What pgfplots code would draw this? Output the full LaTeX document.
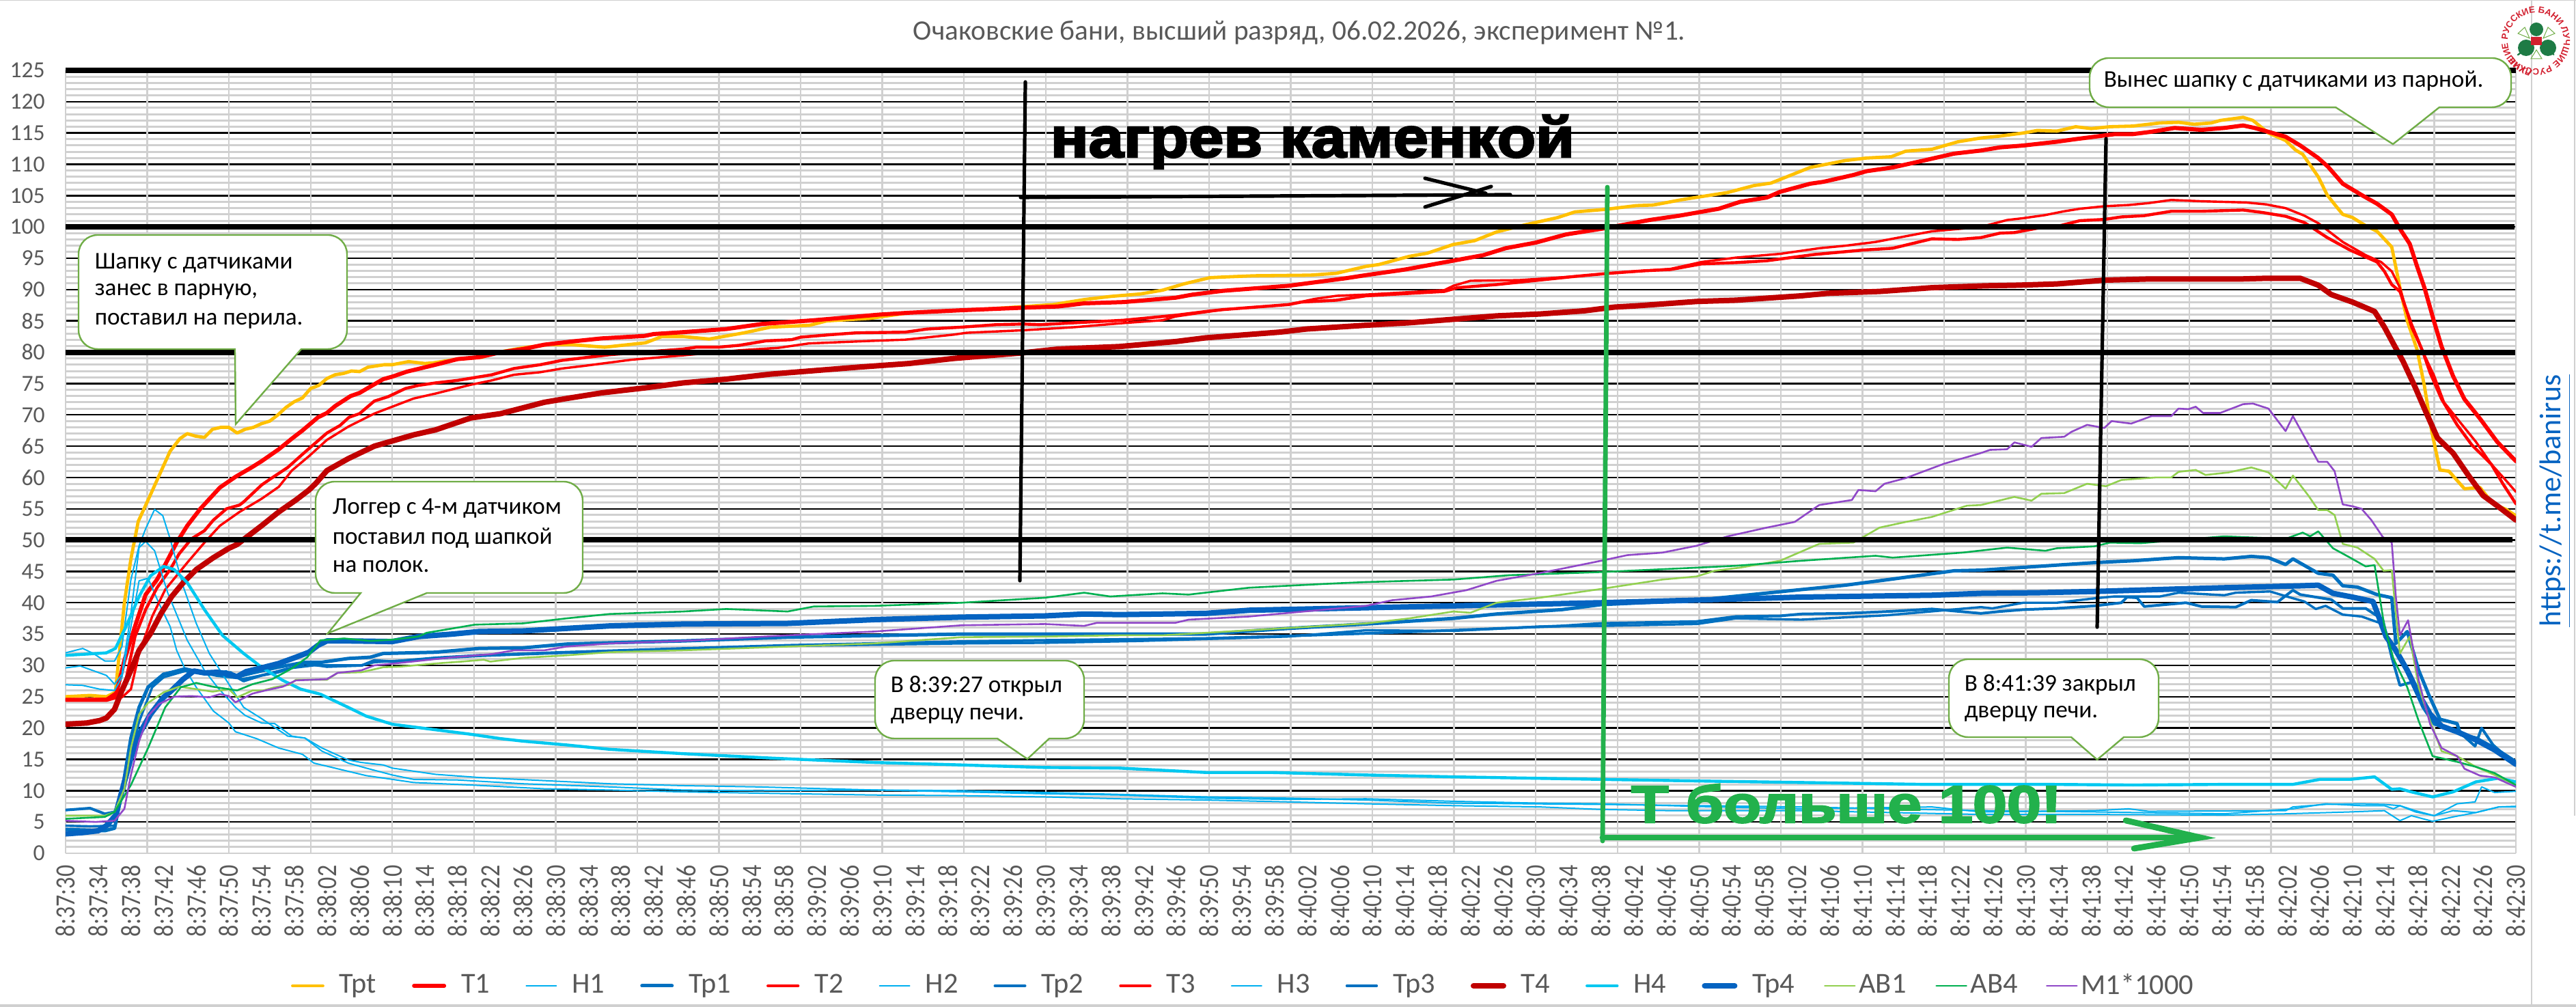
\documentclass[border=0pt]{standalone}
\usepackage{fontspec}
\usepackage{pgfplots}
\pgfplotsset{compat=1.18}
\usetikzlibrary{decorations.text}
\setmainfont{Carlito}
\newfontfamily\heavy[FakeBold=3]{Liberation Sans Bold}
\newfontfamily\arialb{Liberation Sans Bold}
\definecolor{txt}{HTML}{595959}
\definecolor{cTpt}{HTML}{FFC000}
\definecolor{cRed}{HTML}{FF0000}
\definecolor{cH}{HTML}{00B0F0}
\definecolor{cTp}{HTML}{0070C0}
\definecolor{cT4}{HTML}{C00000}
\definecolor{cH4}{HTML}{00C8F0}
\definecolor{cTp4}{HTML}{0563C1}
\definecolor{cAB1}{HTML}{92D050}
\definecolor{cAB4}{HTML}{00B050}
\definecolor{cM}{HTML}{9048C8}
\definecolor{cg}{HTML}{70AD47}
\definecolor{bigg}{HTML}{22B14C}
\definecolor{grid}{HTML}{D0D0D0}
\definecolor{logog}{HTML}{1E7B45}
\definecolor{logor}{HTML}{D2202F}
\begin{document}
\begin{tikzpicture}
\path[use as bounding box] (0pt,0pt) rectangle (942.75pt,368.5pt);
\begin{axis}[
  at={(24pt,56.25pt)},anchor=south west,
  scale only axis,width=896.75pt,height=286.5pt,
  xmin=0,xmax=300,ymin=0,ymax=125,
  axis x line*=bottom,axis y line*=left,
  axis line style={-,draw=grid,line width=0.6pt},
  xtick={0,4,...,300},
  xticklabels={8:37:30,8:37:34,8:37:38,8:37:42,8:37:46,8:37:50,8:37:54,8:37:58,8:38:02,8:38:06,8:38:10,8:38:14,8:38:18,8:38:22,8:38:26,8:38:30,8:38:34,8:38:38,8:38:42,8:38:46,8:38:50,8:38:54,8:38:58,8:39:02,8:39:06,8:39:10,8:39:14,8:39:18,8:39:22,8:39:26,8:39:30,8:39:34,8:39:38,8:39:42,8:39:46,8:39:50,8:39:54,8:39:58,8:40:02,8:40:06,8:40:10,8:40:14,8:40:18,8:40:22,8:40:26,8:40:30,8:40:34,8:40:38,8:40:42,8:40:46,8:40:50,8:40:54,8:40:58,8:41:02,8:41:06,8:41:10,8:41:14,8:41:18,8:41:22,8:41:26,8:41:30,8:41:34,8:41:38,8:41:42,8:41:46,8:41:50,8:41:54,8:41:58,8:42:02,8:42:06,8:42:10,8:42:14,8:42:18,8:42:22,8:42:26,8:42:30},
  x tick label style={yshift=-4.25pt,rotate=90,yscale=1.2,anchor=east,font=\fontsize{8.5}{10}\selectfont,text=txt,inner sep=0pt},
  extra x ticks={0,10,...,300},
  extra x tick labels={},
  extra x tick style={grid=major,major grid style={draw=grid,line width=0.6pt}},
  ytick={0,5,...,125},
  minor y tick num=4,
  ymajorgrids,yminorgrids,
  major y grid style={draw=black,line width=0.6pt},
  minor y grid style={draw=grid,line width=0.75pt},
  y tick label style={font=\fontsize{8.4}{10}\selectfont,text=txt,inner sep=0pt,xshift=-7.4pt},
  /pgf/number format/assume math mode=true,
  major tick length=0pt,minor tick length=0pt,
  no markers,
  every axis plot/.append style={line join=round,line cap=round},
  legend columns=16,
  legend style={at={(0.0918,-0.1693)},anchor=west,draw=none,fill=none,inner sep=0pt,
    font=\fontsize{10.6}{12}\selectfont,text=txt,
    nodes={inner sep=0pt},
    /tikz/column 1/.style={column sep=5.5pt},/tikz/column 2/.style={column sep=13pt},
    /tikz/column 3/.style={column sep=5.5pt},/tikz/column 4/.style={column sep=13pt},
    /tikz/column 5/.style={column sep=5.5pt},/tikz/column 6/.style={column sep=13pt},
    /tikz/column 7/.style={column sep=5.5pt},/tikz/column 8/.style={column sep=13pt},
    /tikz/column 9/.style={column sep=5.5pt},/tikz/column 10/.style={column sep=13pt},
    /tikz/column 11/.style={column sep=5.5pt},/tikz/column 12/.style={column sep=13pt},
    /tikz/column 13/.style={column sep=5.5pt},/tikz/column 14/.style={column sep=13pt},
    /tikz/column 15/.style={column sep=5.5pt},/tikz/column 16/.style={column sep=13pt},
    /tikz/column 17/.style={column sep=5.5pt},/tikz/column 18/.style={column sep=13pt},
    /tikz/column 19/.style={column sep=5.5pt},/tikz/column 20/.style={column sep=13pt},
    /tikz/column 21/.style={column sep=5.5pt},/tikz/column 22/.style={column sep=13pt},
    /tikz/column 23/.style={column sep=5.5pt},/tikz/column 24/.style={column sep=13pt},
    /tikz/column 25/.style={column sep=5.5pt},/tikz/column 26/.style={column sep=10.7pt},
    /tikz/column 27/.style={column sep=1.2pt},/tikz/column 28/.style={column sep=10.7pt},
    /tikz/column 29/.style={column sep=1.2pt},/tikz/column 30/.style={column sep=10.3pt},
    /tikz/column 31/.style={column sep=1.2pt}},
  legend image code/.code={\draw[#1](0pt,0pt)--(11pt,0pt);},
]
% Tpt
\addplot[cTpt,line width=1.2pt] coordinates {(0,25)(3,25.2)(5,25)(6.1,25.7)(7.2,40)(8,47)(8.9,53)(10.1,56.4)(12.8,64.2)(14,66.2)(14.9,67)(15.9,66.6)(17,66.4)(18,67.7)(19,68)(20,68)(21,67.1)(22,67.7)(23,68)(24,68.6)(25,69)(26,70)(27,71.2)(28,72.1)(29,72.7)(30,74.2)(31,74.7)(32,75.8)(33,76.4)(34,76.6)(35,77)(36,76.9)(37,77.6)(39,78)(40,78)(42,78.5)(44,78.2)(45,78.3)(48,78.9)(51,79.2)(53,80)(56,80.7)(59,81.2)(62,81.2)(66,80.8)(71,81.5)(73,82.5)(75.6,82.5)(78.8,82.1)(83.1,83.1)(86.3,84)(91.1,84.3)(93.2,85)(98.5,85.4)(103.3,86.3)(112.9,86.9)(120.9,87.6)(124.7,88.4)(127.9,88.9)(131.6,89.3)(134.3,89.9)(136.9,90.9)(140.1,91.9)(141.7,92)(145.5,92.2)(152.4,92.3)(155.6,92.6)(159.2,93.7)(160.8,94)(164.5,95.3)(166.7,95.8)(169.9,97.2)(172.5,97.8)(175.2,99.2)(178.9,100.4)(182.7,101.5)(184.8,102.4)(188.5,102.8)(192.3,103.4)(194.4,103.5)(198.1,104.4)(203.5,105.5)(206.7,106.6)(208.8,107)(213.6,109.5)(217.9,110.6)(220.5,111)(223.5,111.2)(225.3,112.1)(228.5,112.4)(231.7,113.6)(234.5,114.2)(236.8,114.5)(239.7,115)(241.4,115.4)(243.8,115.3)(246.1,116)(248,115.7)(250.3,116)(253.1,116.1)(256.4,116.6)(258.7,116.7)(260.6,116.4)(262.7,116.6)(263.8,117)(266.6,117.5)(267.8,117)(269.7,115)(271.8,113.8)(273,112.3)(273.9,111.6)(275.8,108)(276.9,105.1)(277.8,103.6)(278.8,102)(280,101.5)(281.6,100.2)(283,99.3)(284.8,96.8)(285.8,90.3)(286.7,85)(287.9,80.4)(288.8,74.6)(289.7,67.3)(290.7,61.2)(291.8,61)(293.7,58.2)(295.6,58.4)(297.2,55.8)(298.8,54.9)(300,53.9)};
\addlegendentry{Tpt}
% T1
\addplot[cRed,line width=1.5pt] coordinates {(0,24.5)(5,24.5)(6.1,24.9)(7.2,30.8)(8.5,36.2)(9.8,41.3)(11.2,43.7)(12.2,46.1)(13.6,49.6)(14.9,52.3)(16.5,55)(18.9,58.4)(20.8,60.1)(22.9,61.7)(24,62.6)(26.1,64.5)(27.8,66.3)(29,67.5)(30.9,69.6)(32,70.3)(33,71.4)(34.9,73)(36,73.5)(37.3,74.5)(38.9,75.7)(40,76.1)(41.8,76.9)(45.3,78)(48,78.9)(50.6,79.2)(53.3,80)(56,80.5)(58.6,81.2)(61.9,81.7)(65.6,82.2)(70.9,82.6)(72,82.9)(75.6,83.2)(80.9,83.7)(85.2,84.5)(91.6,85.1)(99.6,86)(103.3,86.3)(109.7,86.7)(117.2,87.1)(121.5,87.3)(124.7,87.8)(129.5,88)(135.9,88.7)(138,89.2)(141.7,89.8)(149.7,90.6)(156.7,91.8)(159.2,92.3)(164,93.2)(173.6,95.5)(176.3,96.6)(180,97.5)(183.7,98.8)(188.5,99.8)(193.9,101.1)(197.6,101.8)(202.4,102.9)(205,104)(208.3,104.7)(209.9,105.6)(213.6,106.9)(215.2,107.2)(218.9,108.3)(220.5,108.9)(223.7,109.5)(227.5,110.6)(231.2,111.7)(234.5,112.2)(236.8,112.7)(239.7,113)(243.8,113.6)(246,114)(249.6,114.6)(250.8,114.8)(253,114.8)(255.4,115.2)(258.2,115.8)(261.5,115.5)(264.3,115.8)(266.6,116.2)(268,115.8)(269.4,115.3)(271.8,114.4)(273.6,113)(275.8,111)(277,109.6)(278.8,106.9)(281.1,105.1)(283,103.7)(284.8,102)(285.8,99.7)(287,97.3)(287.9,93.7)(288.8,90.3)(290,84.8)(290.9,80.9)(292.3,76.2)(293.7,72.5)(295.6,69.4)(297.7,65.7)(300,62.6)};
\addlegendentry{T1}
% H1
\addplot[cH,line width=0.5pt] coordinates {(0,26.9)(2.1,26.8)(4.2,26.2)(6,26)(6.9,28.1)(8,36.2)(9,43.5)(10.1,43.9)(11.4,40)(12.8,36.2)(13.6,32.4)(14.6,29.5)(16,26.5)(18.1,22.7)(20,20.8)(20.8,19.4)(23.4,18.3)(26.1,16.8)(29,15.8)(30.4,14.4)(33.6,13.4)(36.8,12.4)(40,11.8)(42.6,11.3)(49.6,10.9)(58.6,10.3)(66.6,10.1)(75.6,9.8)(84.7,9.6)(99,9.3)(109.7,9.2)(119.9,9)(129,8.7)(139.6,8.5)(149.7,8.2)(159.2,7.9)(169.9,7.6)(180.5,7.4)(188,7)(196.5,6.8)(212.5,6.8)(234.5,6.2)(248.4,6.2)(264.3,6.1)(271.8,6.3)(279.7,6.6)(283.9,6.8)(285.8,5.2)(287.2,6)(289.8,5.1)(292.3,5.8)(295.1,6.5)(297.9,7.4)(300,7.5)};
\addlegendentry{H1}
% Tp1
\addplot[cTp,line width=1.25pt] coordinates {(0,3.8)(2.6,3.7)(4.8,3.6)(6,4)(6.9,9.8)(8,18.4)(9,23.3)(10.1,26.5)(12,28.6)(14.4,29.2)(16,29.1)(18.6,28.4)(20.8,28.1)(22.9,28.8)(26,29.7)(29.3,30.5)(31.4,30.5)(34.6,31.1)(37.3,31.3)(38.9,31.9)(45.3,32.1)(50.6,32.7)(56,32.8)(61.3,33.4)(66.6,33.6)(75.6,33.9)(88.4,34.5)(109.7,35)(119.9,35)(129,35)(139.6,35)(149.7,35.9)(159.2,36.6)(169.9,37.5)(175.2,38.2)(183.2,38.9)(188,39.7)(199.7,40.4)(207.2,41.4)(212.5,42.1)(217.9,42.8)(223.2,43.7)(231.2,45.1)(234.5,45.2)(239.1,45.6)(248.4,46.4)(253.1,46.7)(258.7,47.2)(264.3,47)(267.6,47.4)(269.7,47.2)(271.8,46.1)(272.7,47)(275.8,44.7)(277.6,44.4)(278.8,42.7)(280.6,42.5)(283,41.3)(284.8,40.8)(285.3,33.5)(286.7,35.4)(288.1,29.2)(289.3,25.4)(290.7,21.4)(292.8,20.7)(293.2,19)(295.1,18.4)(297.4,16.8)(300,14.6)};
\addlegendentry{Tp1}
% T2
\addplot[cRed,line width=1.1pt] coordinates {(0,24.5)(5,24.6)(7.2,26.5)(8.5,34.6)(9.8,38.9)(11.2,42.4)(12.8,45.3)(13.9,47.8)(15.4,50.2)(17,51.5)(18.1,53.2)(19.7,55)(21.3,55.6)(21.8,56.1)(24,58.8)(25,59.7)(27.2,61.6)(29,63.7)(32,67.1)(33.6,68.3)(34.7,69.6)(36,70.2)(37.8,72.2)(39.5,72.9)(41.6,74.2)(43.2,74.7)(45.3,75.1)(48,75.5)(52.2,76.4)(54.9,77.4)(58.1,78)(60.8,78.7)(63.4,79.1)(66.6,79.6)(75.6,80.5)(77.2,80.8)(79.9,80.8)(82.5,81.1)(85.7,81.8)(88.9,82)(90,82.4)(93.7,82.8)(96.9,83.1)(102.8,83.2)(105.5,83.7)(109.7,84)(114,84.4)(117.2,84.5)(119.3,84.4)(123.6,84.7)(129.5,85.1)(135.9,85.9)(139.6,86.5)(141.7,86.8)(149.7,87.6)(151.3,88)(155.6,88.3)(159.2,89)(168.8,89.7)(170.4,90.3)(175.2,90.8)(184.8,92.1)(189,92.6)(193.3,93)(196.5,93.2)(200.3,94.1)(204.5,94.3)(208.3,94.6)(214.1,95.6)(220,96.3)(223.7,96.6)(228.5,98.1)(231.7,98)(234.5,98.3)(236.8,99)(238.6,99.1)(241.4,99.8)(244.2,100.2)(246.6,101)(249.6,101.2)(251.7,101.6)(254.5,101.8)(257.8,102.5)(261.5,102.5)(266.6,102.7)(269,102.3)(271.8,101.7)(274.1,100.7)(276.9,98.3)(279.7,96.3)(283,94.4)(283.9,92.9)(284.8,90.8)(285.8,89.7)(287.2,84.5)(288.6,80.1)(289.5,76.7)(290.9,72.5)(292.8,68.4)(294.6,65.2)(297,62.1)(298.4,59)(300,55.8)};
\addlegendentry{T2}
% H2
\addplot[cH,line width=0.5pt] coordinates {(0,32)(2.1,32.7)(3.4,31.9)(4.8,30.7)(6,30.7)(6.9,33)(8,43.7)(9,49.1)(9.8,51.8)(10.9,54.9)(11.9,53.9)(12.8,50.2)(14.4,42.6)(16,36.7)(17.6,31.9)(19.7,27.6)(21.8,23.3)(24,21.5)(27.2,18.7)(29.3,18.4)(31.4,16.3)(34.6,14.4)(36.8,13.6)(40,12.5)(42.6,11.8)(48,11.7)(56,11.1)(66.6,10.6)(75.6,10.1)(84.7,10)(99,10.1)(109.7,9.8)(119.9,9.5)(129,9.3)(139.6,8.8)(149.7,8.6)(159.2,8.7)(169.9,8.3)(180.5,8)(188,7.9)(201.9,7.4)(212.5,7.1)(228.5,7.4)(234.5,6.6)(248.4,6.8)(252.6,7.1)(255,6.7)(271.8,6.8)(272.7,7.4)(276.7,7.8)(281,7.9)(283.9,7.8)(285.8,7.6)(287.7,6.6)(290,6)(292.3,6.8)(295.1,6.5)(297.9,7.4)(300,7.4)};
\addlegendentry{H2}
% Tp2
\addplot[cTp,line width=1pt] coordinates {(0,6.9)(3,7.2)(4.8,6.3)(6,6.6)(7.2,10.3)(8,16.8)(9,23.3)(10.1,26.6)(12,28.6)(14.6,29.5)(17,28.8)(19.7,29)(21.8,27.5)(24,28.4)(26,28.9)(29.3,30.3)(32,29.8)(36.3,30)(37.8,30.8)(40,30.6)(45.3,31.2)(50.6,31.6)(61.3,32.1)(75.6,32.7)(88.4,33.2)(109.7,33.8)(119.9,34)(139.6,34.3)(149.7,34.7)(159.2,35.1)(169.9,35.6)(183.2,36.3)(188,36.7)(199.7,37)(204.5,37.8)(209.9,37.9)(212.5,38.2)(217.9,38.3)(223.2,38.6)(228.5,39)(234.5,38.3)(236.8,38.6)(239.7,38.9)(243.8,39.1)(248.4,39.5)(251.7,40)(252.4,40.9)(253.6,40.8)(254.5,39.4)(259.6,40)(261.5,39.4)(265.7,39.3)(267.6,40.4)(270.8,40.1)(272.7,42)(273.6,41.3)(277.4,40.5)(278.8,39.1)(281.6,39.1)(283.7,37.3)(284.8,31.3)(285.8,26.8)(287.2,27.3)(288.6,23.3)(290,20.6)(293.2,19.2)(295,17.1)(295.8,20)(297.2,17.3)(300,14.1)};
\addlegendentry{Tp2}
% T3
\addplot[cRed,line width=0.85pt] coordinates {(0,24.5)(5,24.6)(6.9,24.9)(8,26.2)(9,31.9)(10.6,37.8)(12.2,42.1)(14.9,46.4)(17,49.6)(18.9,52.3)(21.3,54.5)(24,56.6)(26.1,58.5)(27.7,61.1)(29.8,63.4)(32,66)(34.6,68.1)(37.8,70.2)(40,71.3)(42.6,72.6)(45.3,73.4)(49.6,74.8)(52.2,75.5)(54.9,76.4)(58.1,76.8)(60.8,77.4)(63.4,77.8)(69.3,78.8)(75.6,79.5)(82.5,80.3)(87.3,80.7)(91,81.4)(98.5,81.8)(102.8,82)(108.7,82.8)(110.3,83.1)(117.2,83.5)(123.6,84)(129,84.6)(134.3,85.1)(135.9,85.7)(141.7,86.8)(149.7,87.6)(152.9,88.5)(155.6,89)(159.2,89.2)(168.8,89.9)(169.9,90.6)(172,91.4)(177.9,91.5)(184.8,92.1)(189,92.6)(196.5,93.3)(200.3,94.4)(204.5,95.1)(209.9,95.7)(214.7,96.6)(217.9,97)(221.6,97.6)(228.5,99.3)(234.5,100)(237.7,101.1)(239.7,101.4)(242.4,101.9)(244.7,102.5)(246.6,102.9)(249.6,103.3)(252.6,103.5)(255,103.8)(257.8,104.3)(261.5,104.1)(267,103.9)(269.4,103.6)(271.8,103)(274.1,101.8)(275.8,100.6)(278.8,97.6)(281.6,95.5)(283.5,94.4)(284.8,92.9)(285.8,90.3)(287.2,84)(288.6,80.1)(290,76.2)(291.2,72)(292.8,69.4)(295.1,65.7)(297,62.1)(298.8,59.5)(300,57.7)};
\addlegendentry{T3}
% H3
\addplot[cH,line width=0.5pt] coordinates {(0,29.6)(1.8,29.9)(5,28.4)(6,27)(6.9,28.6)(8,38.3)(9,48.8)(9.8,49.8)(10.9,48.3)(12.5,41.6)(14.9,34)(17,29.2)(18.6,26.5)(20.8,23.3)(22,22)(24,20.8)(25.6,20.7)(27.7,18.7)(29.3,18.4)(31.4,16.8)(34.6,14.9)(36.2,14.5)(38.9,14.1)(40,13.6)(45.3,12.6)(50.6,12.1)(58.6,11.6)(66.6,11.1)(75.6,10.8)(84.7,10.6)(99,10.1)(109.7,10)(119.9,9.7)(129,9.4)(139.6,9)(149.7,8.8)(159.2,8.5)(169.9,8)(188,7.8)(212.5,7.4)(234.5,6.8)(248.4,6.6)(264.3,6.3)(272.7,7.1)(276.7,7.9)(281,7.6)(283.9,7.6)(285,7.1)(285.8,7.6)(287.7,6.8)(290,6)(292.8,7.9)(295,8.2)(295.8,10.6)(297.4,9.7)(300,9.9)};
\addlegendentry{H3}
% Tp3
\addplot[cTp,line width=0.85pt] coordinates {(0,4.4)(3,4.3)(6.1,4.4)(7.4,12.5)(9,21)(10.6,26.5)(12,28.1)(14.9,29.2)(17.6,28.5)(20.2,28.9)(21.6,27.8)(24,28.4)(27.2,29.5)(30.4,30)(34.6,30)(36.2,30)(37.8,30.5)(45.3,31.1)(50.6,31.5)(61.3,32)(75.6,32.6)(88.4,33.1)(109.7,33.5)(119.9,33.6)(131.6,33.9)(149.7,34.6)(159.2,35.6)(169.9,35.5)(180.5,36.2)(188,36.3)(199.7,36.6)(204.5,37.5)(212.5,37.3)(223,38)(234.5,39.3)(235.9,39.1)(239.7,40)(243.8,40)(248.4,40.7)(250.8,41)(256.4,41)(258.7,41.6)(264.3,41.2)(265.7,41.6)(269.9,41.8)(272.2,40.9)(274.1,40.2)(275.5,39)(276.7,39.5)(278.8,38.1)(281.1,37.8)(283.5,36.7)(284.6,33.5)(285.8,30.8)(287.2,28.1)(289.1,23.3)(290.5,20.3)(293.2,19.2)(297,17)(300,14.4)};
\addlegendentry{Tp3}
% T4
\addplot[cT4,line width=2pt] coordinates {(0,20.6)(2.6,20.8)(4.2,21.2)(5,21.6)(6,23)(6.9,26)(8,29.2)(9,32.4)(10.4,35.1)(11.7,38.3)(13,41)(14.4,43.2)(16,45.3)(18.1,47.2)(20,48.7)(21,49.3)(22.4,50.7)(24,52.3)(26.1,54.5)(28.2,56.4)(29.8,58)(30.6,59)(32,61.1)(34.6,63)(37.8,65)(42.6,66.8)(45.3,67.6)(49.6,69.5)(53.3,70.2)(58.6,72)(61.3,72.6)(65.6,73.5)(70.9,74.3)(75.6,75.1)(80.9,75.7)(86.3,76.5)(96.9,77.6)(103.3,78.2)(108.7,79)(117.2,79.9)(121.5,80.5)(129,80.9)(135.9,81.7)(139.6,82.3)(148.6,83.2)(151.9,83.7)(159.2,84.3)(164.5,84.7)(175.2,85.8)(180.5,86.1)(185.9,86.6)(189.6,87.2)(192.3,87.4)(199.7,88.1)(204.5,88.3)(212.5,89)(215.7,89.4)(222.1,89.7)(228.5,90.3)(235,90.6)(239.1,90.7)(243.8,90.9)(249.6,91.5)(255.4,91.7)(266.6,91.7)(269.4,91.8)(273.6,91.8)(275.8,90.7)(277.4,89.2)(280,88)(282.7,86.5)(283.9,84)(285.1,81.1)(286.2,78.5)(287.6,74.6)(289,70.4)(290.4,66.3)(292.3,63.9)(294.2,60.3)(296,57.1)(297.9,55.3)(300,53.2)};
\addlegendentry{T4}
% H4
\addplot[cH4,line width=1.1pt] coordinates {(0,31.6)(2.6,31.8)(5,32)(6.1,32.7)(7.4,36.2)(9,41)(10.4,44.3)(12,45.8)(13.3,45.3)(14.9,43.2)(17,38.9)(19.2,34.8)(21.8,31.9)(24,29.7)(26.6,27.6)(28.8,26.2)(31.2,25.4)(34.6,23.3)(36.8,21.9)(40,20.6)(44.2,19.9)(49.6,19)(53.3,18.3)(56,17.9)(61.3,17.3)(66.6,16.6)(75.6,15.9)(86.3,15.2)(91.6,14.9)(99,14.5)(109.7,14.1)(119.9,13.7)(129,13.6)(139.6,12.9)(147.6,12.9)(159.2,12.5)(169.9,12.2)(188,11.8)(201.9,11.5)(212.5,11.3)(227.5,11)(242.8,11)(253.1,10.9)(264.3,11)(272.7,11)(276,11.8)(279.7,11.8)(282.7,12.2)(284.8,10.2)(285.8,10.3)(287.2,9.8)(289.8,9)(292.3,9.8)(295.1,11.4)(297.9,12)(300,11.4)};
\addlegendentry{H4}
% Tp4
\addplot[cTp4,line width=2pt] coordinates {(0,3.1)(2.1,3.3)(4,3.6)(5,4.4)(6.1,6)(7.2,11.4)(8,15.2)(9,19)(10.4,22.2)(12,24.9)(13,26)(14.4,27.8)(15.7,29.1)(17,28.8)(18.6,28.9)(20,28.6)(21,28.2)(22.1,29)(24,29.6)(26.1,30.3)(28.2,31.3)(29.8,32.1)(30.9,33.2)(32,33.9)(34.6,33.9)(40,33.8)(43.2,34.6)(47.4,35)(50.6,35.4)(56,35.5)(61.3,35.9)(66.6,36.3)(75.6,36.6)(88.4,36.7)(99,37.3)(109.7,37.7)(119.9,37.9)(124.7,38.2)(129,38.1)(139.6,38.3)(144.9,38.8)(159.2,39.2)(169.9,39.5)(188,40)(201.9,40.5)(212.5,40.9)(228.5,41.2)(234.5,41.5)(241.4,41.6)(248.4,41.8)(258.7,42.2)(264.3,42.4)(273.6,42.7)(275.8,42.8)(277.6,41.5)(280,40.9)(282.5,40.2)(283.2,37.8)(284.1,34.6)(285.3,32.4)(286.7,29.2)(288.1,25.4)(289.5,22.2)(290.9,20.3)(292.8,19.4)(295.1,18.1)(297.4,16.5)(300,14.2)};
\addlegendentry{Tp4}
% AB1
\addplot[cAB1,line width=0.65pt] coordinates {(0,6)(4.8,6)(6,6.6)(7.2,10.3)(8,16.8)(9,22.2)(10.1,24)(12,25.7)(13.9,26.6)(16,26.2)(18,25.8)(20,26.2)(21,24.9)(22.9,26)(24.2,26)(25.6,26.5)(27.4,26.9)(28.2,27.7)(32,27.7)(33.3,28.8)(36.2,28.9)(38.9,29.7)(41,29.8)(45.3,30.3)(48.5,30.6)(51.2,30.9)(52,30.6)(56,31.2)(61.3,31.6)(66.6,32.1)(75.6,32.4)(88.4,33)(99,33.5)(109.7,34.5)(119.9,34.6)(129,34.8)(134.3,34.8)(144.9,35.6)(159.2,36.7)(164.5,37.5)(169.9,38.6)(172,38.4)(175.2,40)(180.5,40.8)(188,42.2)(195.5,43.7)(199.7,44.2)(201.9,45.1)(205,45.6)(209.9,46.7)(214.7,49.4)(218.9,49.6)(222.1,52)(225.3,52.9)(228.5,53.7)(232.8,55.5)(234.5,55.6)(238.6,56.9)(240.7,56.3)(241.9,57.4)(244.7,57.5)(247.5,59)(249.8,58.6)(251.7,59.6)(255.9,60)(257.8,60)(258.7,60.9)(260.8,61.2)(262,60.4)(264.8,60.8)(267.6,61.6)(269.7,60.8)(271.8,58.2)(272.7,60.3)(274.6,57.1)(275.8,54.8)(276.9,54.8)(277.8,54)(278.8,49.4)(280.6,48.8)(282.7,47)(283.8,45.1)(284.8,45.2)(285.3,38.3)(285.8,31.9)(287,34.6)(288.1,26.5)(289.5,21.1)(290.9,16.3)(292.8,15.5)(295.1,13.8)(297.4,12.5)(300,10.9)};
\addlegendentry{AB1}
% AB4
\addplot[cAB4,line width=0.65pt] coordinates {(0,5.5)(4.8,5.8)(6,6.6)(8,10.9)(10.1,16.8)(12.2,23.3)(14.1,26.5)(16,27.2)(18,26.6)(21,26)(22.9,27)(25.3,27.8)(27.7,29.5)(29.6,31.3)(31.2,34)(34.1,34.3)(37.3,33.9)(40,34.1)(43.2,34.6)(44.2,35.2)(47.4,35.9)(50.1,36.5)(56,36.7)(61.3,37.5)(66.6,38.2)(75.6,38.6)(80.9,39)(88.4,38.6)(91.6,39.4)(99,39.5)(109.7,40)(119.9,40.8)(124.7,41.6)(127.9,41)(134.3,41.5)(137.5,41.3)(144.9,42.4)(155.6,43.1)(159.2,43.3)(169.9,43.7)(176.8,44.4)(188,44.9)(199.7,45.6)(204.5,45.9)(212.5,46.7)(221.6,47.5)(223.7,47.2)(232.2,48)(237.7,48.8)(242.4,48.3)(243.8,48.7)(248.4,49)(250.3,49.6)(254,49.5)(264.3,50.6)(271.8,50.2)(273.9,51.2)(274.8,50.6)(275.8,51.4)(277.6,48.7)(279.7,47.2)(281.6,45.8)(282.7,46)(283.9,36.2)(285,31.1)(286.7,26.5)(288.1,21.1)(289.8,15.5)(292.8,14.6)(295.1,13.8)(297.4,12.8)(300,10.9)};
\addlegendentry{AB4}
% M1
\addplot[cM,line width=0.65pt] coordinates {(0,5.2)(3.7,5)(6,5.2)(7.2,7.1)(8,12.5)(9,17.9)(10.1,21.9)(11.4,23.8)(13.3,25)(15.4,25.1)(17.6,24.9)(18.9,25.4)(20,25.1)(20.8,24.1)(22.9,25.5)(24.5,26)(26.6,26.6)(28.2,27.6)(32,27.8)(33.3,28.8)(36.2,29.2)(37.8,30)(41,30.4)(47.4,31.3)(52.2,31.8)(54.9,32.4)(58.6,32.4)(61.3,33)(66.6,33.5)(75.6,33.9)(88.4,34.8)(99,35.4)(109.7,36.4)(119.9,36.6)(124.7,36.3)(126.3,36.8)(135.9,36.8)(137.5,37.3)(144.9,37.8)(159.2,39.5)(162.4,40.4)(167.2,41)(171.5,42)(175.2,43.5)(179.5,44.5)(182.7,45.3)(188,46.7)(191.2,47.6)(195.5,48)(199.7,49.1)(203.5,50.6)(208.3,52)(211.7,52.9)(214.7,55.6)(218.7,56.4)(219.5,58)(221.6,57.8)(222.7,59)(225.3,59.9)(230,62.2)(234.5,63.9)(235.6,64.4)(237.7,64.5)(238.6,65.6)(240.7,64.9)(241.9,66.3)(244.7,66.5)(245.6,67.3)(247.5,68.4)(249.6,67.9)(250.5,69)(252.9,68.6)(255.4,69.8)(257.8,69.8)(258.7,71)(259.9,70.9)(260.8,71.3)(261.7,70.3)(263.8,70.3)(266.6,71.7)(267.8,71.8)(269.7,71)(271.8,67.4)(272.7,69.8)(275.8,62.5)(276.9,62.5)(277.8,61)(278.8,55.7)(280,55.4)(281.1,55)(282.3,53.2)(283.7,50.5)(284.8,49.6)(285.3,41)(285.8,34.8)(286.8,37.2)(288.1,27.6)(289.5,20.6)(290.9,16.8)(292.8,15.5)(293.7,13.5)(295.6,12.4)(297.4,12.1)(300,10.6)};
\addlegendentry{M1*1000}
\end{axis}
% frame details
\fill[grid] (0pt,0pt) rectangle (942.75pt,1pt);
\draw[grid,line width=0.4pt] (0pt,368.4pt)--(942.75pt,368.4pt);
\draw[grid,line width=0.4pt] (926.5pt,1pt)--(926.5pt,368.5pt);
\draw[grid,line width=0.4pt] (942.3pt,70pt)--(942.3pt,368.5pt);
% annotations in reference pixels
\begin{scope}[shift={(0pt,368.5pt)},x=0.25pt,y=-0.25pt]
\node[font=\fontsize{10.3}{13}\selectfont,text=txt,inner sep=0pt] at (1902,48) {Очаковские бани, высший разряд, 06.02.2026, эксперимент №1.};
% thick lines
\draw[black,line width=1.8pt] (96,103)--(3683,103);
\draw[black,line width=1.8pt] (96,332)--(3681,332);
\draw[black,line width=1.8pt] (96,516)--(3682,516);
\draw[black,line width=1.8pt] (96,790)--(3678,790);
% black hand lines
\draw[black,line width=1.3pt,line cap=round] (1501,120)--(1493,850);
\draw[black,line width=1.3pt,line cap=round] (3083,203)--(3070,918);
\draw[black,line width=1.3pt,line cap=round] (1494,289)--(2211,285);
\draw[black,line width=1.3pt,line cap=round] (2086,261)--(2175,283);
\draw[black,line width=1.3pt,line cap=round] (2086,303)--(2183,273);
\node[anchor=base west,inner sep=0pt,font=\fontsize{20.8}{24}\heavy,xscale=1.11] at (1537,230) {нагрев каменкой};
% green
\draw[bigg,line width=1.7pt,line cap=round] (2353,274)--(2346,1231);
\draw[bigg,line width=2.2pt,line cap=round] (2346,1226)--(3221,1226);
\draw[bigg,line width=2.2pt,line cap=round] (3112,1201)--(3221,1226)--(3124,1242);
\node[anchor=base west,inner sep=0pt,text=bigg,font=\fontsize{19.2}{24}\heavy,xscale=1.17] at (2387,1204) {Т больше 100!};
% callouts
\tikzset{co/.style={fill=white,draw=cg,line width=0.6pt},ct/.style={anchor=west,inner sep=0pt,font=\fontsize{8.8}{10}\selectfont,text=black}}
\draw[co] (345,621)--(441,511)[rounded corners=7pt]--(508,511)--(508,344)--(115,344)--(115,511)[sharp corners]--(344,511)--cycle;
\node[ct] at (138,385) {Шапку с датчиками};
\node[ct] at (138,427) {занес в парную,};
\node[ct] at (138,470) {поставил на перила.};
\draw[co] (480,927)--(625,868)[rounded corners=7pt]--(853,868)--(853,705)--(462,705)--(462,868)[sharp corners]--(528,868)--cycle;
\node[ct] at (486,744) {Логгер с 4-м датчиком};
\node[ct] at (486,788) {поставил под шапкой};
\node[ct] at (486,829) {на полок.};
\draw[co] (3503,211)--(3571,157)[rounded corners=7pt]--(3676,157)--(3676,85)--(3059,85)--(3059,157)[sharp corners]--(3419,157)--cycle;
\node[ct] at (3079,119) {Вынес шапку с датчиками из парной.};
\draw[co] (1504,1111)--(1536,1081)[rounded corners=7pt]--(1587,1081)--(1587,967)--(1281,967)--(1281,1081)[sharp corners]--(1460,1081)--cycle;
\node[ct] at (1303,1004) {В 8:39:27 открыл};
\node[ct] at (1303,1048) {дверцу печи.};
\draw[co] (3070,1112)--(3109,1079)[rounded corners=7pt]--(3160,1079)--(3160,965)--(2853,965)--(2853,1079)[sharp corners]--(3032,1079)--cycle;
\node[ct] at (2875,1002) {В 8:41:39 закрыл};
\node[ct] at (2875,1045) {дверцу печи.};
% link
\node[rotate=90,anchor=center,inner sep=0pt,text=cTp4,font=\fontsize{11}{12}\selectfont] at (3741,733) {\underline{https://t.me/banirus}};
\end{scope}
% logo, offsets in reference pixels from its centre
\begin{scope}[shift={(928pt,353.5pt)},x=0.25pt,y=0.25pt]
\path[decorate,decoration={text along path,text align=center,text={|\fontsize{3.3}{4}\arialb\color{logor}|ЛУЧШИЕ РУССКИЕ БАНИ ЛУЧШИЕ РУССКИЕ БАНИ}}] (210:41) arc[start angle=210,end angle=-150,radius=41];
\foreach \a/\r in {90/25,-37/33,218/33}{
  \draw[logog,line width=0.6pt,line cap=round] (\a:11)--(\a:\r);}
\fill[logog] (1,17) circle (10);
\fill[logog] (-14,-10) circle (12);
\fill[logog] (18,-10) circle (12);
\draw[cg,fill=white,line width=0.25pt] (-9,4)--(-16,20)--(-26,11)--cycle;
\draw[cg,fill=white,line width=0.25pt] (11,4)--(18,20)--(28,11)--cycle;
\draw[cg,fill=white,line width=0.25pt] (1,-13)--(-7,-26)--(9,-26)--cycle;
\fill[logor] (-7,-6) rectangle (9,6);
\end{scope}
\end{tikzpicture}
\end{document}
